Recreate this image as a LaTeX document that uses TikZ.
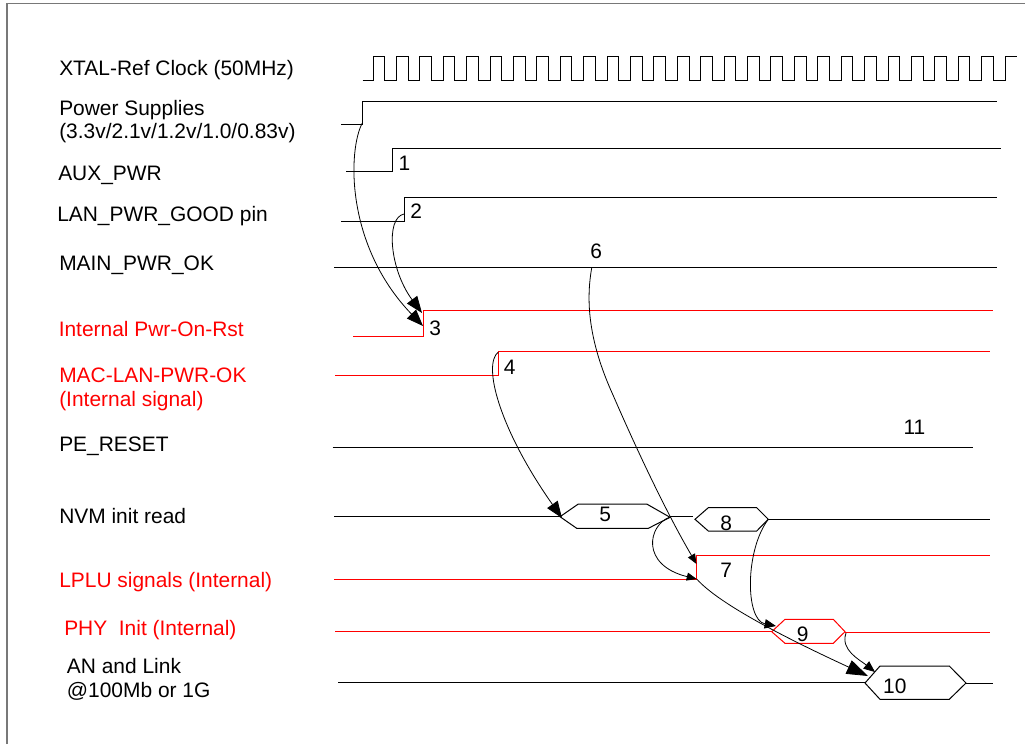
\documentclass[tikz,border=0pt]{standalone}
\usepackage{fontspec}
\setmainfont{Liberation Sans}
\usetikzlibrary{arrows.meta}
\definecolor{sigred}{RGB}{255,0,0}
\definecolor{framegray}{RGB}{120,120,120}
\begin{document}
\begin{tikzpicture}[x=0.75pt,y=-0.75pt,
  lbl/.style={anchor=base west, inner sep=0pt, font=\fontsize{15.7}{18}\selectfont},
  redlbl/.style={lbl, text=sigred},
  num/.style={anchor=base, inner sep=0pt, font=\fontsize{15.7}{18}\selectfont},
  sig/.style={line width=0.75pt, black},
  redsig/.style={line width=0.75pt, sigred},
  conn/.style={line width=0.6pt, black},
  bigtip/.style={-{Triangle[length=12.5pt,width=9.5pt]}},
  midtip/.style={-{Triangle[length=8.5pt,width=7pt]}},
  smalltip/.style={-{Triangle[length=7.5pt,width=6pt]}},
  hugetip/.style={-{Triangle[length=16pt,width=11pt]}},
]
\useasboundingbox (0,0) rectangle (1025,744);
% frame
\draw[framegray, line width=1.2pt] (7,744) -- (7,3.5) -- (1025,3.5);

% labels
\node[lbl] (lclk) at (59,75) {XTAL-Ref Clock (50MHz)};
\node[lbl] (lps1) at (59,115.3) {Power Supplies};
\node[lbl] (lps2) at (59,138.6) {(3.3v/2.1v/1.2v/1.0/0.83v)};
\node[lbl] (laux) at (58,180.4) {AUX\_PWR};
\node[lbl] (llan) at (57,221.6) {LAN\_PWR\_GOOD pin};
\node[lbl] (lmain) at (59,270.5) {MAIN\_PWR\_OK};
\node[redlbl] (lpor) at (58.5,336) {Internal Pwr-On-Rst};
\node[redlbl] (lmac1) at (59,382) {MAC-LAN-PWR-OK};
\node[redlbl] (lmac2) at (59,406) {(Internal signal)};
\node[lbl] (lpe) at (59,451) {PE\_RESET};
\node[lbl] (lnvm) at (59,523) {NVM init read};
\node[redlbl] (llplu) at (59,587) {LPLU signals (Internal)};
\node[redlbl] (lphy) at (64,635) {PHY\ \ Init (Internal)};
\node[lbl] (lan1) at (66.7,673) {AN and Link};
\node[lbl] (lan2) at (66.7,697.7) {@100Mb or 1G};

% clock
\draw[sig] (362.7,80.5)
  foreach \k in {0,...,26} { -- ({373+\k*23.41},80.5) -- ++(0,-24) -- ++(11.7,0) -- ++(0,24) }
  -- (1005,80.5) -- (1005,56.5) -- (1016.7,56.5);

% signals
\draw[sig] (341,124.5) -- (362.5,124.5) -- (362.5,101.5) -- (997,101.5);
\draw[sig] (346,171.5) -- (392.5,171.5) -- (392.5,148.5) -- (1000.7,148.5);
\draw[sig] (341,221.5) -- (404,221.5) -- (404,197.5) -- (997,197.5);
\draw[sig] (334,267.5) -- (997,267.5);
\draw[redsig] (353,336.5) -- (423.5,336.5) -- (423.5,310.5) -- (993,310.5);
\draw[redsig] (335,375.5) -- (498.5,375.5) -- (498.5,351.5) -- (990,351.5);
\draw[sig] (332.7,447.5) -- (972.7,447.5);
\draw[sig] (334,516.5) -- (572,516.5);
\draw[sig] (670,516.5) -- (692.7,516.5);
\draw[sig] (768.3,519.5) -- (990,519.5);
\draw[redsig] (334,579.5) -- (696.5,579.5) -- (696.5,555.5) -- (990,555.5);
\draw[redsig] (335,631.5) -- (771.7,631.5);
\draw[redsig] (845,632.5) -- (990,632.5);
\draw[sig] (338,682.5) -- (865,682.5);
\draw[sig] (966,683.5) -- (993.3,683.5);

% bus hexagons
\draw[sig, fill=white] (560,516.7) -- (578.3,504) -- (646.7,504) -- (670,517.3) -- (648.3,528.3) -- (576.7,528.3) -- cycle;
\draw[sig, fill=white] (695,519.3) -- (708.3,507.7) -- (756.7,507.7) -- (768.3,519.3) -- (756.7,531) -- (708.3,531) -- cycle;
\draw[redsig, fill=white] (771.7,631.7) -- (785,619.3) -- (833.3,619.3) -- (845,631.7) -- (833.3,643.3) -- (785,643.3) -- cycle;
\draw[sig, fill=white] (865,683) -- (880,666) -- (949.3,666) -- (966,683) -- (949.3,699.3) -- (880,699.3) -- cycle;

% numbers
\node[num] (n1) at (404.5,170.7) {1};
\node[num] (n2) at (416.3,218) {2};
\node[num] (n3) at (435.3,335) {3};
\node[num] (n4) at (509.7,374) {4};
\node[num] (n5) at (605.3,521.7) {5};
\node[num] (n6) at (596.2,258.3) {6};
\node[num] (n7) at (726.3,577.7) {7};
\node[num] (n8) at (726.3,530) {8};
\node[num] (n9) at (802.8,641.7) {9};
\node[num] (n10) at (894.8,693.3) {10};
\node[num] (n11) at (914.5,434) {11};

% connector end points
\coordinate (psrise) at (362.3,123);
\coordinate (porA) at (423,326);
\coordinate (lanrise) at (404,214);
\coordinate (porB) at (422,313);
\coordinate (macrise) at (498.3,352);
\coordinate (h5L) at (562,518);
\coordinate (h5R) at (670,517);
\coordinate (six) at (591.7,268);
\coordinate (lpluTop) at (696.5,564);
\coordinate (lpluBot) at (696.7,579);
\coordinate (h8R) at (768.3,519.3);
\coordinate (h9L) at (776,626);
\coordinate (h9R) at (846,633);
\coordinate (h10a) at (868,676);
\coordinate (h10b) at (875,672);

% connectors
\draw[conn,bigtip] (psrise) .. controls (348,150) and (345,245) .. (porA);
\draw[conn,bigtip] (lanrise) .. controls (385,218) and (390,270) .. (porB);
\draw[conn,bigtip] (macrise) .. controls (482,365) and (500,430) .. (h5L);
\draw[conn,smalltip] (six) .. controls (586,300) and (588,340) .. (613,395) .. controls (636,448) and (665,510) .. (lpluTop);
\draw[conn,smalltip] (h5R) .. controls (648,525) and (640,565) .. (lpluBot);
\draw[conn,hugetip] (lpluBot) .. controls (720,605) and (790,640) .. (h10a);
\draw[conn,midtip] (h8R) .. controls (745,550) and (745,620) .. (h9L);
\draw[conn,midtip] (h9R) .. controls (840,650) and (860,660) .. (h10b);
\end{tikzpicture}
\end{document}
